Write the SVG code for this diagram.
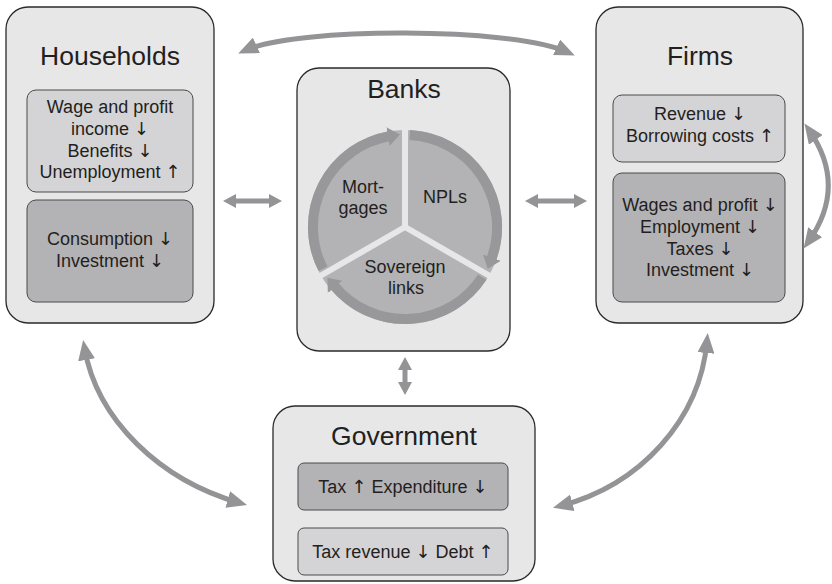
<svg xmlns="http://www.w3.org/2000/svg" width="832" height="584" viewBox="0 0 832 584">
  <style>
    .outer { fill: #e7e7e8; stroke: #2a2a2a; stroke-width: 1.3; }
    .light { fill: #d4d4d6; stroke: #4a4a4a; stroke-width: 1; }
    .dark { fill: #b3b3b6; stroke: #4a4a4a; stroke-width: 1; }
    text { font-family: "Liberation Sans", Arial, sans-serif; fill: #231f20; text-anchor: middle; }
    .title { font-size: 26.5px; }
    .body { font-size: 18px; }
    .ar { font-family: "DejaVu Sans", sans-serif; font-size: 18px; fill: #231f20; }
    .link { fill: none; stroke: #949497; stroke-width: 5; }
    .ring { fill: none; stroke: #98989b; stroke-width: 10; }
    .gap { stroke: #e7e7e8; stroke-width: 6; }
    .head { fill: #949497; }
  </style>
  <defs>
    <marker id="bigHead" viewBox="0 0 20 17" refX="12" refY="8.5" markerWidth="20" markerHeight="17" markerUnits="userSpaceOnUse" orient="auto-start-reverse">
      <path d="M0,0 L20,8.5 L0,17 Z" fill="#949497"/>
    </marker>
    <marker id="ringHead" viewBox="0 0 12 19" refX="1" refY="9.5" markerWidth="12" markerHeight="19" markerUnits="userSpaceOnUse" orient="auto">
      <path d="M0,0 L12,9.5 L0,19 Z" fill="#98989b"/>
    </marker>
  </defs>

  <!-- Households -->
  <g id="households">
    <rect class="outer" x="6" y="7" width="208" height="316" rx="22"/>
    <text class="title" x="110" y="65">Households</text>
    <rect class="light" x="27" y="90" width="166" height="102" rx="9"/>
    <text class="body" x="110" y="113">Wage and profit</text>
    <text class="body" x="110" y="135">income <tspan class="ar">↓</tspan></text>
    <text class="body" x="110" y="157">Benefits <tspan class="ar">↓</tspan></text>
    <text class="body" x="110" y="178">Unemployment <tspan class="ar">↑</tspan></text>
    <rect class="dark" x="27" y="200" width="166" height="102" rx="9"/>
    <text class="body" x="110" y="245">Consumption <tspan class="ar">↓</tspan></text>
    <text class="body" x="110" y="267">Investment <tspan class="ar">↓</tspan></text>
  </g>

  <!-- Banks -->
  <g id="banks">
    <rect class="outer" x="297" y="68" width="213" height="283" rx="22"/>
    <text class="title" x="404" y="98">Banks</text>
    <circle cx="405" cy="227" r="97" fill="#b3b3b6"/>
    <line class="gap" x1="405" y1="227" x2="405" y2="126"/>
    <line class="gap" x1="405" y1="227" x2="492.5" y2="277.5"/>
    <line class="gap" x1="405" y1="227" x2="317.5" y2="277.5"/>
    <path class="ring" d="M323.0,268.8 A92,92 0 0 1 389.0,136.4" marker-end="url(#ringHead)"/>
    <path class="ring" d="M409.8,135.1 A92,92 0 0 1 491.5,258.5" marker-end="url(#ringHead)"/>
    <path class="ring" d="M482.2,277.1 A92,92 0 0 1 334.5,286.1" marker-end="url(#ringHead)"/>
    <text class="body" x="363" y="193">Mort-</text>
    <text class="body" x="363" y="214">gages</text>
    <text class="body" x="445" y="203">NPLs</text>
    <text class="body" x="405" y="273">Sovereign</text>
    <text class="body" x="406" y="294">links</text>
  </g>

  <!-- Firms -->
  <g id="firms">
    <rect class="outer" x="596" y="7" width="207" height="316" rx="22"/>
    <text class="title" x="700" y="65">Firms</text>
    <rect class="light" x="613" y="95" width="172" height="67" rx="9"/>
    <text class="body" x="700" y="120">Revenue <tspan class="ar">↓</tspan></text>
    <text class="body" x="700" y="142">Borrowing costs <tspan class="ar">↑</tspan></text>
    <rect class="dark" x="613" y="173" width="172" height="129" rx="9"/>
    <text class="body" x="700" y="211">Wages and profit <tspan class="ar">↓</tspan></text>
    <text class="body" x="700" y="233">Employment <tspan class="ar">↓</tspan></text>
    <text class="body" x="700" y="255">Taxes <tspan class="ar">↓</tspan></text>
    <text class="body" x="700" y="276">Investment <tspan class="ar">↓</tspan></text>
  </g>

  <!-- Government -->
  <g id="government">
    <rect class="outer" x="273" y="406" width="262" height="175" rx="22"/>
    <text class="title" x="404" y="445">Government</text>
    <rect class="dark" x="298" y="463" width="210" height="47" rx="6"/>
    <text class="body" x="403" y="493">Tax <tspan class="ar">↑</tspan> Expenditure <tspan class="ar">↓</tspan></text>
    <rect class="light" x="298" y="528" width="210" height="47" rx="6"/>
    <text class="body" x="403" y="558">Tax revenue <tspan class="ar">↓</tspan> Debt <tspan class="ar">↑</tspan></text>
  </g>

  <!-- Connectors -->
  <g id="connectors">
    <path class="link" d="M245.5,50.3 C297,27 512,27 567.5,52.3" marker-start="url(#bigHead)" marker-end="url(#bigHead)"/>
    <path class="link" d="M84.5,348 C97,420 160,480 239.3,502.8" marker-start="url(#bigHead)" marker-end="url(#bigHead)"/>
    <path class="link" d="M707,341 C700,420 640,485 560.7,505.8" marker-start="url(#bigHead)" marker-end="url(#bigHead)"/>
    <path class="link" d="M809,130 Q848,186 808.2,242" marker-start="url(#bigHead)" marker-end="url(#bigHead)"/>
    <polygon class="head" points="223,201 236,194 236,198.5 269,198.5 269,194 282,201 269,208 269,203.5 236,203.5 236,208"/>
    <polygon class="head" points="525,201 538,194 538,198.5 574,198.5 574,194 587,201 574,208 574,203.5 538,203.5 538,208"/>
    <polygon class="head" points="405,357 412,370 407.5,370 407.5,382 412,382 405,395 398,382 402.5,382 402.5,370 398,370"/>
  </g>
</svg>
